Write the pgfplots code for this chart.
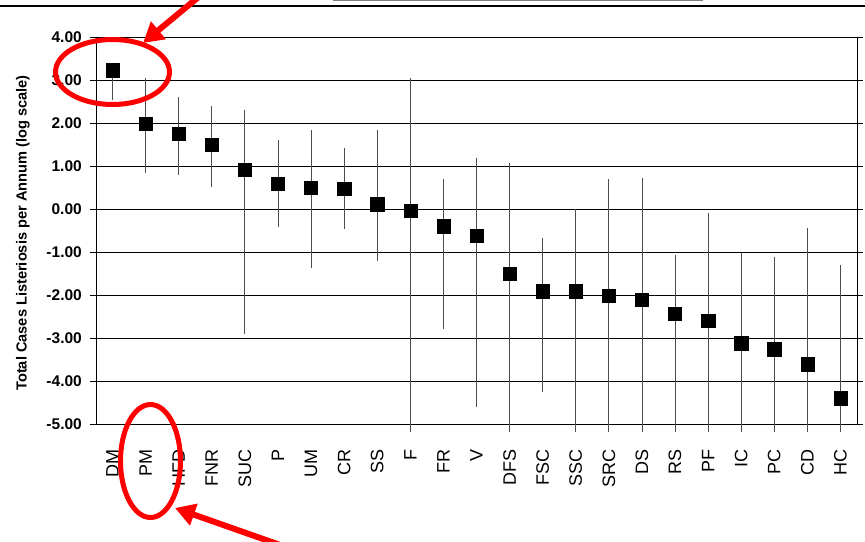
\documentclass[border=0pt]{standalone}
\usepackage{fontspec}
\setmainfont{Liberation Sans}
\usepackage{pgfplots}
\pgfplotsset{compat=1.18}
\usepackage{pgfplotstable}
\usetikzlibrary{arrows.meta}

\pgfplotstableread{
x name y hi lo
0 DM 3.23 3.30 2.53
1 PM 1.98 3.05 0.84
2 HFD 1.76 2.60 0.78
3 FNR 1.49 2.40 0.52
4 SUC 0.91 2.30 -2.91
5 P 0.58 1.60 -0.43
6 UM 0.50 1.84 -1.38
7 CR 0.48 1.41 -0.47
8 SS 0.11 1.84 -1.22
9 F -0.04 3.05 -5.18
10 FR -0.40 0.69 -2.78
11 V -0.63 1.18 -4.61
12 DFS -1.51 1.06 -5.18
13 FSC -1.91 -0.68 -4.25
14 SSC -1.91 0.01 -5.18
15 SRC -2.02 0.69 -5.18
16 DS -2.10 0.73 -5.18
17 RS -2.44 -1.07 -5.18
18 PF -2.60 -0.09 -5.18
19 IC -3.12 -1.03 -5.18
20 PC -3.26 -1.12 -5.18
21 CD -3.61 -0.45 -5.18
22 HC -4.40 -1.30 -5.18
}\data

\begin{document}
\begin{tikzpicture}
\useasboundingbox (0pt,0pt) rectangle (865pt,-541pt);
\clip (0pt,0pt) rectangle (865pt,-541pt);
\begin{axis}[
  at={(96pt,-424pt)}, anchor=south west,
  scale only axis, width=761pt, height=387pt,
  xmin=-0.5, xmax=22.5, ymin=-5, ymax=4,
  ytick={-5,-4,...,4},
  xtick={0,...,22},
  xticklabels={DM,PM,HFD,FNR,SUC,P,UM,CR,SS,F,FR,V,DFS,FSC,SSC,SRC,DS,RS,PF,IC,PC,CD,HC},
  clip=false,
  ymajorgrids,
  grid style={black, line width=0.8pt},
  axis line style={black, line width=1pt},
  tick align=outside,
  y tick style={black, line width=0.8pt},
  major tick length=6pt,
  x tick style={draw=none},
  /pgf/number format/.cd, fixed, fixed zerofill, precision=2, assume math mode=true,
  /pgfplots/.cd,
  yticklabel style={anchor=east, inner sep=0pt, font=\fontsize{15.5}{18}\selectfont\bfseries},
  xticklabel style={rotate=90, anchor=east, inner sep=0pt, font=\fontsize{18}{20}\selectfont},
  xticklabel shift=19pt,
  yticklabel shift=8pt,
]
\addplot[only marks, mark=square*, mark size=6.6pt, mark options={fill=black, draw=black},
  error bars/.cd, y dir=both, y explicit,
  error bar style={line width=0.8pt, black!70}, error mark=none]
  table[x=x, y=y, y error plus expr=\thisrow{hi}-\thisrow{y}, y error minus expr=\thisrow{y}-\thisrow{lo}] {\data};
\end{axis}
\node[rotate=90, font=\bfseries\fontsize{14.6}{16}\selectfont] at (23pt,-233pt) {Total Cases Listeriosis per Annum (log scale)};
\draw[black, line width=1.3pt] (0pt,-6pt) -- (865pt,-6pt);
\draw[gray, line width=2pt] (333pt,0pt) -- (703pt,0pt);
\draw[red, line width=5pt] (112.5pt,-72pt) ellipse [x radius=57pt, y radius=32.5pt];
\draw[red, line width=5pt] (150.5pt,-461pt) ellipse [x radius=30pt, y radius=56.5pt];
\draw[red, line width=6pt, -{Triangle[length=20pt,width=22pt]}] (230pt,29pt) -- (143pt,-43pt);
\draw[red, line width=6pt, -{Triangle[length=20pt,width=22pt]}] (300pt,-552pt) -- (175pt,-508pt);
\end{tikzpicture}
\end{document}
